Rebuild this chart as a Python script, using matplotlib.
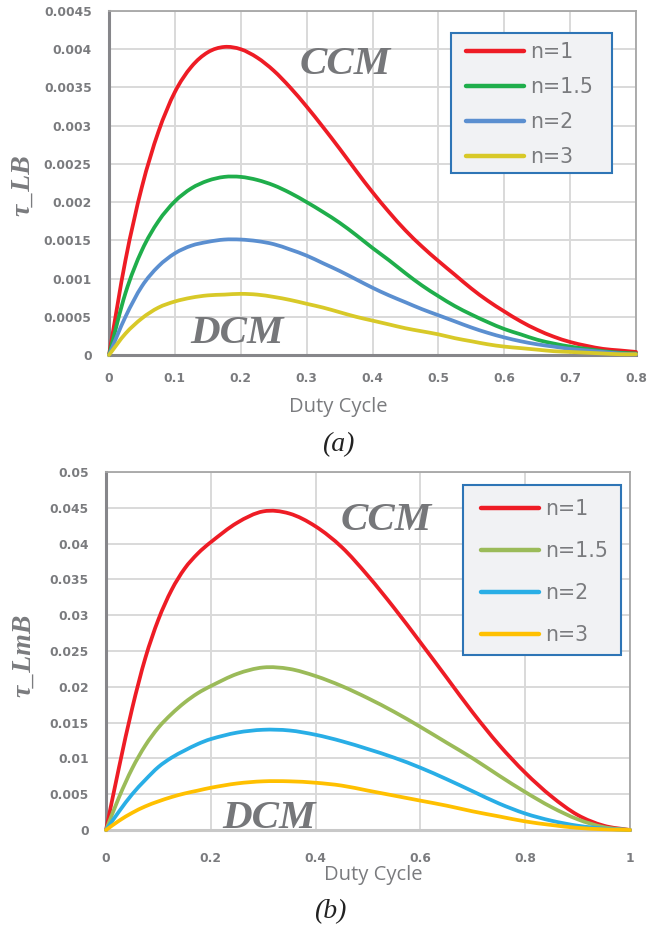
import numpy as np
import matplotlib
matplotlib.use("Agg")
import matplotlib.pyplot as plt
from matplotlib.path import Path
from matplotlib.patches import PathPatch, Rectangle
from matplotlib.lines import Line2D

# ---------------- (a) boundary time constant tau_LB ----------------
duty_a = [0, 0.025, 0.05, 0.075, 0.1, 0.125, 0.15, 0.175, 0.2, 0.225, 0.25,
          0.275, 0.3, 0.325, 0.35, 0.375, 0.4, 0.425, 0.45, 0.475, 0.5,
          0.525, 0.55, 0.575, 0.6, 0.625, 0.65, 0.675, 0.7, 0.725, 0.75,
          0.775, 0.8]
tau_lb_n1 = [0, 0.00124, 0.00220, 0.00292, 0.00344, 0.00377, 0.00396, 0.00403,
             0.00400, 0.00389, 0.00372, 0.00350, 0.00325, 0.00298, 0.00270,
             0.00241, 0.00213, 0.00187, 0.00163, 0.00142, 0.00123, 0.00105,
             0.00087, 0.00071, 0.00057, 0.00044, 0.00033, 0.00024, 0.00017,
             0.00012, 0.00008, 0.00006, 0.00004]
tau_lb_n15 = [0, 0.00081, 0.00137, 0.00175, 0.00201, 0.00218, 0.00228, 0.00233,
              0.00233, 0.00229, 0.00222, 0.00212, 0.00200, 0.00187, 0.00173,
              0.00157, 0.00140, 0.00124, 0.00107, 0.00091, 0.00077, 0.00064,
              0.00053, 0.00043, 0.00034, 0.00027, 0.00020, 0.00015, 0.00011,
              0.00008, 0.00005, 0.00003, 0.00002]
tau_lb_n2 = [0, 0.00050, 0.00090, 0.00116, 0.00133, 0.00143, 0.00148, 0.00151,
             0.00151, 0.00149, 0.00145, 0.00138, 0.00130, 0.00120, 0.00110,
             0.00099, 0.00088, 0.00078, 0.00069, 0.00060, 0.00052, 0.00044,
             0.00036, 0.00029, 0.00023, 0.00018, 0.00014, 0.00011, 0.00008,
             0.00006, 0.00004, 0.00002, 0.00001]
tau_lb_n3 = [0, 0.00028, 0.00048, 0.00062, 0.00070, 0.00075, 0.00078, 0.00079,
             0.00080, 0.00079, 0.00076, 0.00072, 0.00067, 0.00062, 0.00056,
             0.00050, 0.00045, 0.00040, 0.00035, 0.00031, 0.00027, 0.00022,
             0.00018, 0.00014, 0.00011, 0.00009, 0.00007, 0.00005, 0.00004,
             0.00003, 0.00002, 0.00001, 0.00001]

# ---------------- (b) boundary time constant tau_LmB ----------------
duty_b = [0, 0.025, 0.05, 0.075, 0.1, 0.125, 0.15, 0.175, 0.2, 0.25, 0.3,
          0.35, 0.4, 0.45, 0.5, 0.55, 0.6, 0.65, 0.7, 0.75, 0.8, 0.85, 0.9,
          0.95, 1.0]
tau_lmb_n1 = [0, 0.0088, 0.0170, 0.0240, 0.0294, 0.0335, 0.0365, 0.0386,
              0.0402, 0.0429, 0.0445, 0.0442, 0.0424, 0.0395, 0.0355, 0.0310,
              0.0262, 0.0213, 0.0164, 0.0119, 0.0080, 0.0047, 0.0021, 0.0006, 0]
tau_lmb_n15 = [0, 0.0046, 0.0086, 0.0118, 0.0143, 0.0162, 0.0178, 0.0191,
               0.0201, 0.0218, 0.0227, 0.0225, 0.0215, 0.0201, 0.0184, 0.0165,
               0.0144, 0.0122, 0.0100, 0.0076, 0.0053, 0.0032, 0.0015, 0.0004, 0]
tau_lmb_n2 = [0, 0.0026, 0.0050, 0.0070, 0.0088, 0.0101, 0.0111, 0.0120,
              0.0127, 0.0136, 0.0140, 0.0139, 0.0133, 0.0124, 0.0113, 0.0101,
              0.0087, 0.0071, 0.0054, 0.0037, 0.0023, 0.0013, 0.0006, 0.0002, 0]
tau_lmb_n3 = [0, 0.0013, 0.0024, 0.0033, 0.0040, 0.0046, 0.0051, 0.0055,
              0.0059, 0.0065, 0.0068, 0.0068, 0.0066, 0.0062, 0.0055, 0.0048,
              0.0041, 0.0034, 0.0026, 0.0019, 0.0012, 0.0007, 0.0003, 0.0001, 0]

series_labels = ["n=1", "n=1.5", "n=2", "n=3"]
colors_a = ["#ee1c25", "#1fae4b", "#5b8fd0", "#d8c928"]
colors_b = ["#ee1c25", "#9bbb59", "#29aee6", "#ffc000"]

xticks_a = [0, 0.1, 0.2, 0.3, 0.4, 0.5, 0.6, 0.7, 0.8]
yticks_a = [0, 0.0005, 0.001, 0.0015, 0.002, 0.0025, 0.003, 0.0035, 0.004, 0.0045]
xticks_b = [0, 0.2, 0.4, 0.6, 0.8, 1]
yticks_b = [0, 0.005, 0.01, 0.015, 0.02, 0.025, 0.03, 0.035, 0.04, 0.045, 0.05]

W, H = 647, 931
TXT = "#7a7b7e"
GRID = "#d9d9d9"
MODE_CLR = "#76777a"


def smooth_path(x, y):
    """Cubic Bezier path through the points (Hermite tangents)."""
    x = np.asarray(x, float)
    y = np.asarray(y, float)
    n = len(x)
    m = np.empty(n)
    m[0] = (y[1] - y[0]) / (x[1] - x[0])
    m[-1] = (y[-1] - y[-2]) / (x[-1] - x[-2])
    m[1:-1] = (y[2:] - y[:-2]) / (x[2:] - x[:-2])
    verts = [(x[0], y[0])]
    codes = [Path.MOVETO]
    for i in range(n - 1):
        h = x[i + 1] - x[i]
        verts += [(x[i] + h / 3, y[i] + m[i] * h / 3),
                  (x[i + 1] - h / 3, y[i + 1] - m[i + 1] * h / 3),
                  (x[i + 1], y[i + 1])]
        codes += [Path.CURVE4] * 3
    return Path(verts, codes)


def px_axes(fig, left, top, right, bottom):
    return fig.add_axes([left / W, 1 - bottom / H, (right - left) / W, (bottom - top) / H])


def style_axes(ax, xticks, yticks, bottom_spine_color, xpad, ypad):
    ax.set_xlim(xticks[0], xticks[-1])
    ax.set_ylim(yticks[0], yticks[-1])
    ax.set_xticks(xticks)
    ax.set_yticks(yticks)
    ax.set_xticklabels([f"{v:g}" for v in xticks])
    ax.set_yticklabels([f"{v:g}" for v in yticks])
    ax.grid(True, color=GRID, lw=1.4)
    ax.set_axisbelow(True)
    ax.tick_params(length=0, labelsize=8.8, labelcolor=TXT)
    ax.tick_params(axis="x", pad=xpad)
    ax.tick_params(axis="y", pad=ypad)
    for lab in ax.get_xticklabels() + ax.get_yticklabels():
        lab.set_fontweight("bold")
        lab.set_family("DejaVu Sans")
    for side in ("top", "right"):
        ax.spines[side].set_color("#a6a6a6")
        ax.spines[side].set_linewidth(1.3)
    ax.spines["left"].set_color("#86868a")
    ax.spines["left"].set_linewidth(2.2)
    ax.spines["bottom"].set_color(bottom_spine_color)
    ax.spines["bottom"].set_linewidth(2.2)


def draw_series(ax, x, ys, colors):
    handles = []
    for y, c, lab in zip(ys, colors, series_labels):
        patch = PathPatch(smooth_path(x, y), facecolor="none", edgecolor=c,
                          lw=2.7, capstyle="round", joinstyle="round",
                          transform=ax.transData, clip_on=False, zorder=3)
        ax.add_patch(patch)
        handles.append(Line2D([], [], color=c, lw=3.2, solid_capstyle="round", label=lab))
    return handles


def add_legend(fig, ax, handles, box, handle_left, first_row, spacing):
    """Legend box drawn in figure pixels; entries placed inside it."""
    l, t, r, b = box
    ax.add_patch(Rectangle((l / W, 1 - b / H), (r - l) / W, (b - t) / H,
                           transform=fig.transFigure, facecolor="#f1f2f4",
                           edgecolor="#2e75b6", lw=1.5, zorder=5, clip_on=False))
    leg = ax.legend(handles=handles, loc="upper left",
                    bbox_to_anchor=(handle_left / W, 1 - (first_row - 12) / H),
                    bbox_transform=fig.transFigure, borderaxespad=0,
                    prop={"family": "DejaVu Sans", "size": 14.8}, labelcolor=TXT,
                    handlelength=2.8, handletextpad=0.3, labelspacing=spacing,
                    borderpad=0, frameon=False)
    leg.set_zorder(6)
    return leg


def mode_label(ax, x, y, s):
    ax.text(x, y, s, fontsize=29.5, family="Liberation Serif", style="italic",
            weight="bold", color=MODE_CLR, ha="center", va="baseline", zorder=2)


def px_text(fig, x, y, s, **kw):
    fig.text(x / W, 1 - y / H, s, ha="center", va="center", **kw)


fig = plt.figure(figsize=(W / 100, H / 100), dpi=100)
fig.patch.set_facecolor("white")

# ---- panel (a) ----
ax_a = px_axes(fig, 109, 11, 636, 355)
style_axes(ax_a, xticks_a, yticks_a, "#86868a", xpad=12.5, ypad=12.5)
h_a = draw_series(ax_a, duty_a, [tau_lb_n1, tau_lb_n15, tau_lb_n2, tau_lb_n3], colors_a)
add_legend(fig, ax_a, h_a, (451, 33, 612, 173), 466, 54, 0.73)
mode_label(ax_a, 0.358, 0.00368, "CCM")
mode_label(ax_a, 0.195, 0.000157, "DCM")
px_text(fig, 338, 407, "Duty Cycle", family="Open Sans", fontsize=14.5, color=TXT)
px_text(fig, 23, 185, "τ_LB", family="Liberation Serif", style="italic",
        weight="bold", fontsize=20, color=TXT, rotation=90)
px_text(fig, 338, 445, "(a)", family="Liberation Serif", style="italic",
        fontsize=20, color="#222222")

# ---- panel (b) ----
ax_b = px_axes(fig, 106, 472, 630, 830)
style_axes(ax_b, xticks_b, yticks_b, "#c8c8c8", xpad=15.5, ypad=12.5)
h_b = draw_series(ax_b, duty_b, [tau_lmb_n1, tau_lmb_n15, tau_lmb_n2, tau_lmb_n3], colors_b)
add_legend(fig, ax_b, h_b, (463, 485, 621, 655), 481, 511, 1.07)
mode_label(ax_b, 0.535, 0.0419, "CCM")
mode_label(ax_b, 0.312, 0.00028, "DCM")
px_text(fig, 373, 875, "Duty Cycle", family="Open Sans", fontsize=14.5, color=TXT)
px_text(fig, 24, 655, "τ_LmB", family="Liberation Serif", style="italic",
        weight="bold", fontsize=20, color=TXT, rotation=90)
px_text(fig, 330, 912, "(b)", family="Liberation Serif", style="italic",
        fontsize=20, color="#222222")

fig.savefig("out.png", dpi=100)
